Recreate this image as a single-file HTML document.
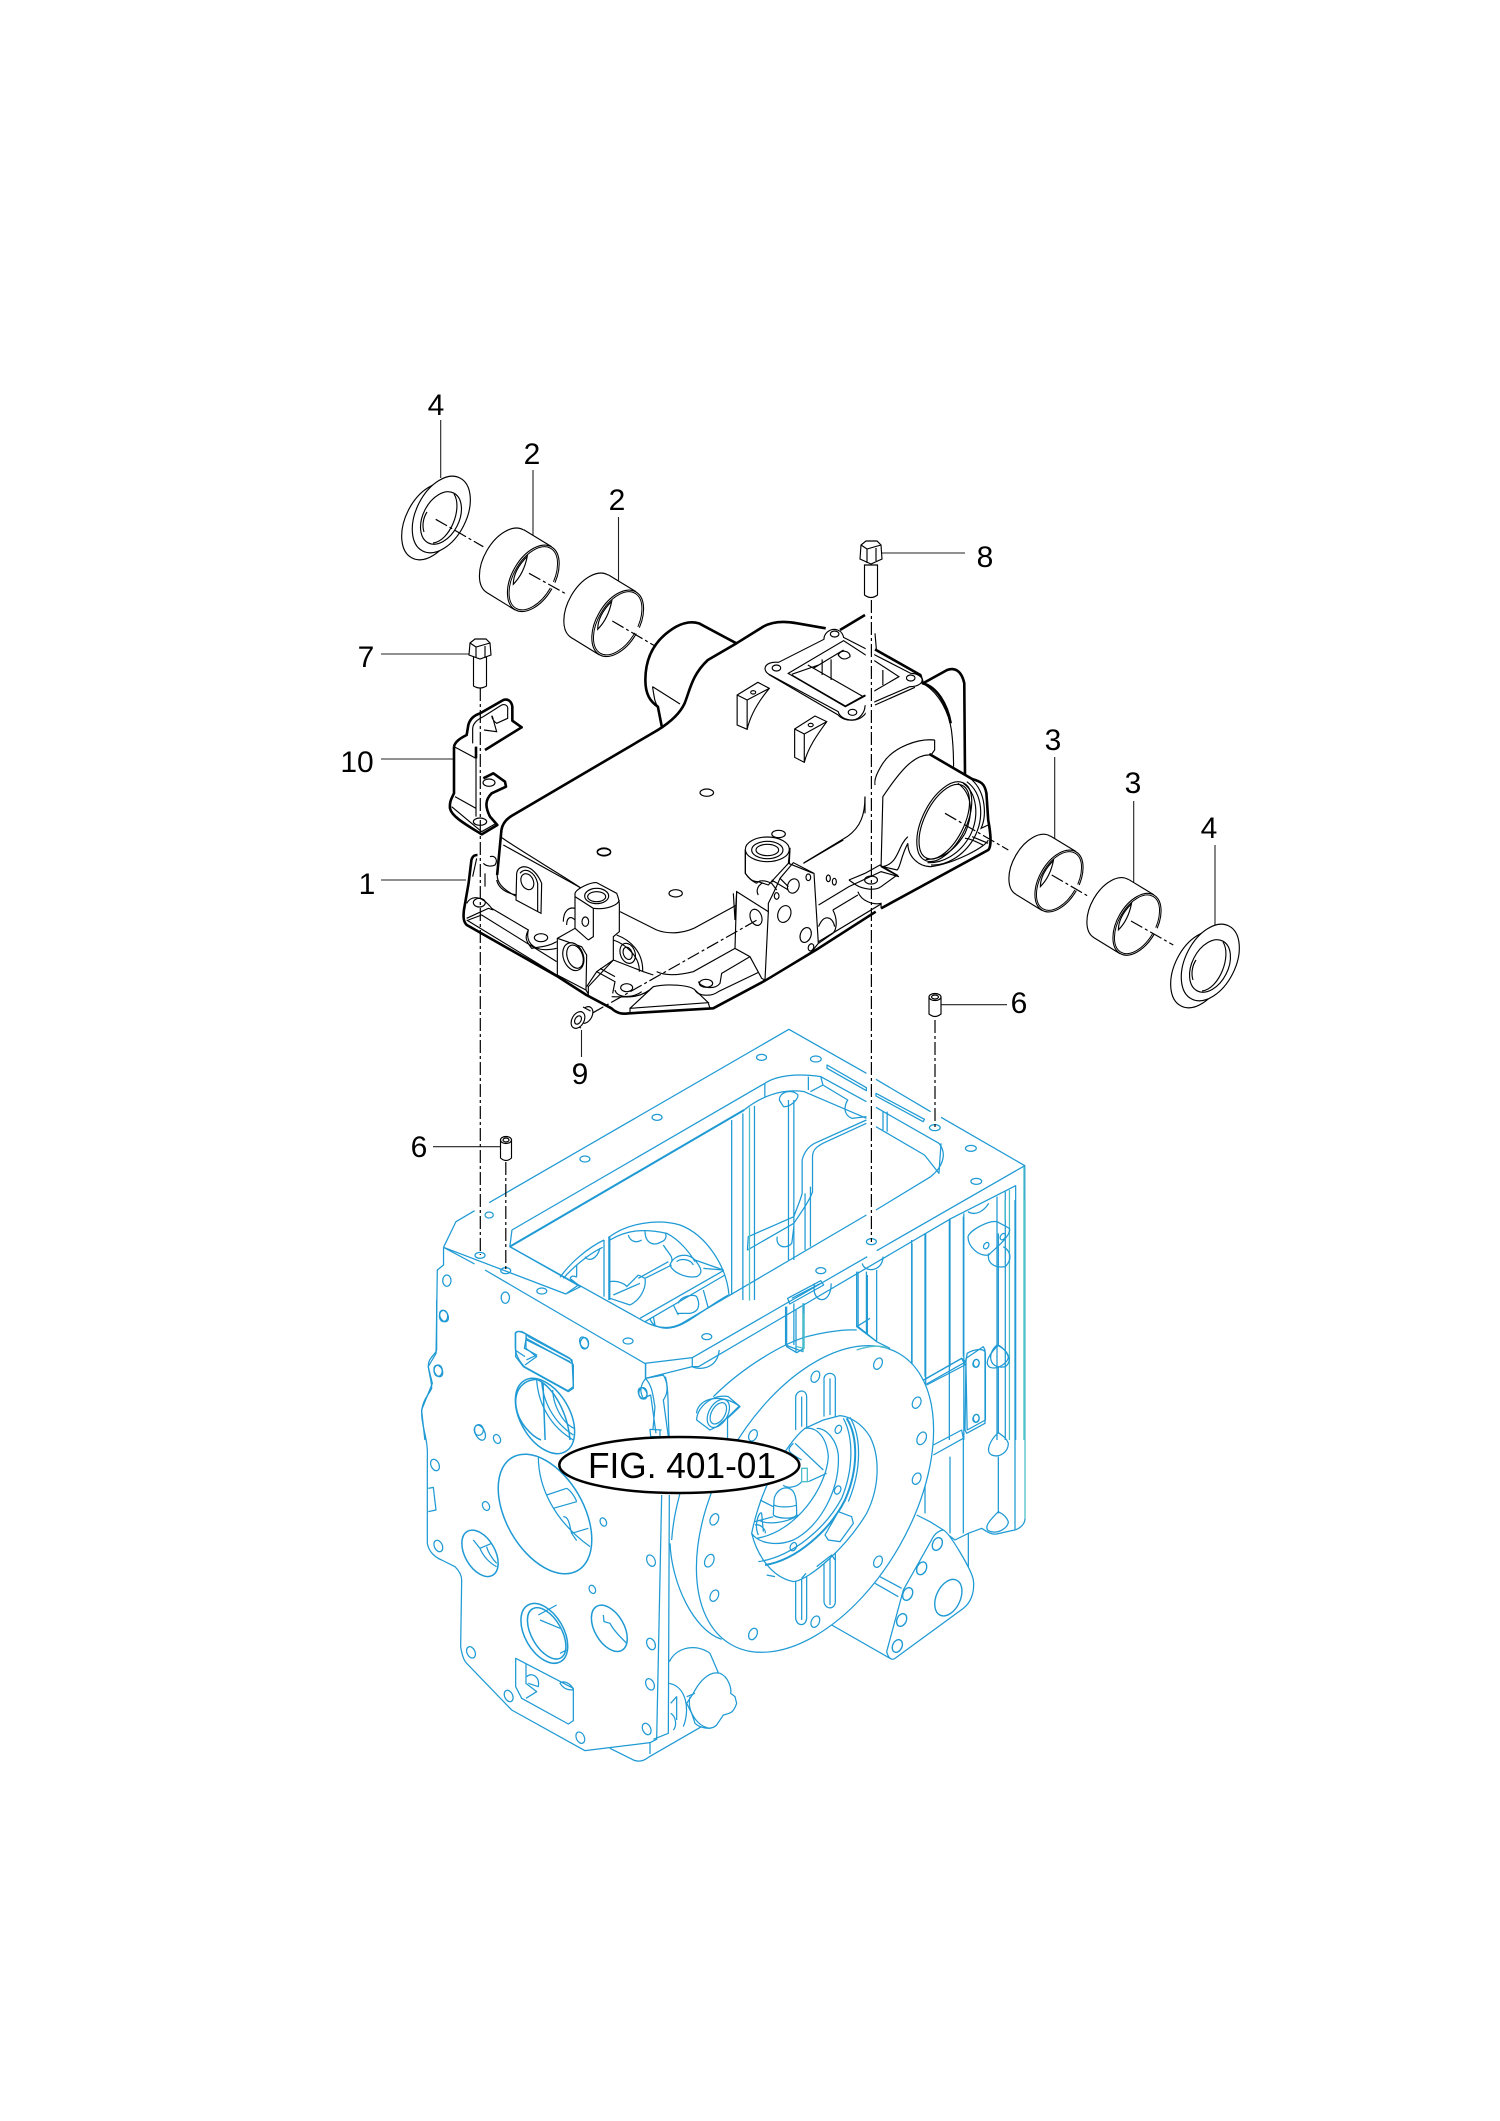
<!DOCTYPE html>
<html><head><meta charset="utf-8"><style>
html,body{margin:0;padding:0;background:#fff}
svg{display:block}
svg *{vector-effect:non-scaling-stroke}
text{font-family:"Liberation Sans",Arial,sans-serif;font-size:30px;fill:#000;text-anchor:middle;stroke:none}
.b{fill:none;stroke:#1f9ad4;stroke-width:1.25;stroke-linejoin:round}
.bw{fill:#fff;stroke:#1f9ad4;stroke-width:1.25}
.t{fill:none;stroke:#4fc0ca;stroke-width:1.3}
.k{fill:none;stroke:#000;stroke-width:1.15}
.kw{fill:#fff;stroke:#000;stroke-width:1.15}
.K{fill:none;stroke:#000;stroke-width:2.6;stroke-linejoin:round}
.l{stroke:#222;stroke-width:1.1;fill:none}
.d{stroke:#000;stroke-width:1.2;stroke-dasharray:13 3 3 3;fill:none}
</style></head><body>
<svg width="1500" height="2121" viewBox="0 0 1500 2121" xmlns="http://www.w3.org/2000/svg">
<rect width="1500" height="2121" fill="#fff"/>
<defs>
<g id="bush">
<ellipse cx="-28" cy="-17" rx="21.3" ry="36.3" transform="rotate(30 -28 -17)" class="kw"/>
<path d="M-9.5,-48.5 L18.2,-31.7 L-18.2,31.7 L-46.2,14.5Z" fill="#fff"/>
<path d="M-9.5,-48.5 L18.2,-31.7 M-46.2,14.5 L-18.2,31.7" class="k"/>
<ellipse cx="0" cy="0" rx="21.3" ry="36.3" transform="rotate(30)" fill="#fff" stroke="#000" stroke-width="1.1"/>
<ellipse cx="0" cy="0" rx="19.6" ry="34.6" transform="rotate(30)" fill="none" stroke="#000" stroke-width="1"/>
<path d="M-6,-22 C-14,-14 -20,-4 -20,6 C-12,-2 -8,-12 -6,-22Z" class="k"/>
<path d="M21,4 L18,10" stroke="#fff" stroke-width="4" fill="none"/>
</g>
<g id="seal">
<ellipse cx="-5.3" cy="3.5" rx="25" ry="41" transform="rotate(27 -5.3 3.5)" class="kw"/>
<ellipse cx="5.3" cy="-3.5" rx="25" ry="41" transform="rotate(27 5.3 -3.5)" class="kw"/>
<ellipse cx="5" cy="0" rx="18" ry="28" transform="rotate(27 5 0)" class="k"/>
<path d="M18,-24 C27,-10 14,23 -3,25" class="k"/>
<path d="M-9,-6 C-13,0 -14,8 -12,14" class="k"/>
</g>
</defs>

<!-- BLUE BODY upper, zoom 4 coords -->
<g transform="translate(400 1020) scale(.41459 .33333)">
<path class="b" d="M105,682 L135,605 L180,572 M215,548 L938,28 L1125,160 M1148,178 L1280,275 M1305,292 L1507,437 L1507,1260"/>
<path class="b" d="M105,682 L180,732 M205,750 L590,1030 L705,1013 L1127,710 M1150,692 L1507,437"/>
<path class="b" d="M105,682 L105,735 L90,750 L87,1000 L68,1040 L78,1090 L52,1170 L60,1260"/>
<path class="b" d="M720,1040 L1330,595 L1485,497 L1485,1260"/>
<path class="b" d="M705,1013 L705,1040 L720,1040 M592,1030 L592,1075 L705,1040"/>
<path class="b" d="M270,630 L880,190 C910,165 960,160 1015,170 L1125,245 M1148,262 L1300,370 C1320,400 1310,440 1280,470 L1148,570 M1125,585 L680,910 C650,930 620,925 590,905 L265,680 L270,630"/>
<path class="b" style="stroke-width:2" d="M265,680 L830,270"/>
<path class="b" d="M830,270 C870,230 920,205 975,215 L1125,295"/>
<path class="b" d="M265,680 L435,800 L400,822 L105,682"/>
<path class="b" d="M880,190 L880,230 M985,170 L985,210 M1015,170 L1020,195 L990,215 M1020,195 L1080,240 C1070,260 1070,285 1090,295 L1125,290"/>
<path class="b" d="M1030,135 L1125,203 L1125,212 L1030,145Z M1148,220 L1265,298 L1262,305 L1148,228Z"/>
<path class="b" d="M1125,300 L1000,370 C985,380 975,395 970,420 L970,520 C965,545 955,570 950,590 L840,650 L838,690 L950,610 C960,590 990,540 995,515 L995,410 C995,390 1005,380 1020,370 L1125,310"/>
<path class="b" d="M800,300 L800,825 M827,280 L827,840 M855,258 L855,840"/>
<path class="t" d="M843,262 L843,842"/>
<path class="b" d="M937,240 L937,720 M950,240 L950,720 M977,520 L977,690 M990,500 L990,680"/>
<path class="b" d="M1148,320 L1265,405 C1275,420 1290,445 1300,460 L1305,370 M1165,275 L1165,330 M1175,275 L1175,335"/>
<path class="b" d="M915,240 C915,215 945,205 960,225 C960,240 940,262 925,260 Z M910,650 C905,680 930,690 945,670 L950,620"/>
<path class="b" d="M935,835 L1015,782 L1022,795 L940,852Z M945,835 L1015,790"/>
<path class="b" d="M705,1040 C720,1050 765,1050 770,990 M1000,790 C990,850 1040,860 1040,790 M1115,730 C1120,760 1165,755 1165,710 M1105,755 L1105,920 M1125,755 L1125,940 L1150,965 M1105,920 L1145,960"/>
<path class="b" d="M930,860 L930,975 L972,995 L972,850 M950,850 L950,975"/>
<path class="t" d="M972,850 L972,995"/>
<path class="b" d="M1235,670 L1235,1260 M1268,640 L1268,1260 M1325,600 L1325,1260 M1360,580 L1360,1260 M1440,530 L1440,1260 M1460,515 L1460,1260"/>
<path class="t" d="M1470,510 L1470,1260 M1505,440 L1505,1260"/>
<path class="b" d="M1370,650 C1375,630 1420,600 1440,605 L1470,625 C1475,650 1430,690 1420,705 C1395,710 1370,680 1370,650Z M1420,700 C1415,730 1435,745 1460,740 C1480,715 1470,690 1455,680"/>
<ellipse class="b" cx="1414" cy="677" rx="6" ry="10" transform="rotate(20 1414 677)"/><ellipse class="b" cx="1454" cy="650" rx="6" ry="10" transform="rotate(20 1454 650)"/>
<path class="b" d="M1370,575 C1390,590 1410,570 1420,550"/>
<path class="b" d="M278,940 C280,930 300,935 310,950 L415,1020 L418,1100 L405,1112 L300,1040 C285,1020 278,1000 278,980Z M305,950 L300,985 L330,1005 L305,1020 M305,960 L410,1025"/>
<path class="b" style="stroke-width:1.5" d="M330,1078 C290,1080 275,1120 280,1160 C285,1210 320,1250 340,1260 M410,1260 C405,1180 370,1100 330,1078 M345,1090 L350,1260"/>
<path class="b" d="M592,1075 C610,1100 610,1130 615,1160 L610,1230 M640,1070 C650,1110 645,1200 650,1260 M715,1180 C720,1130 780,1120 820,1160 L790,1195 L790,1260"/>
<g class="b">
<ellipse cx="872" cy="112" rx="12" ry="9"/><ellipse cx="1003" cy="117" rx="13" ry="9"/><ellipse cx="620" cy="292" rx="12" ry="9"/><ellipse cx="446" cy="417" rx="12" ry="9"/><ellipse cx="215" cy="585" rx="10" ry="9"/><ellipse cx="193" cy="706" rx="12" ry="9"/><ellipse cx="255" cy="752" rx="12" ry="9"/><ellipse cx="342" cy="813" rx="12" ry="9"/><ellipse cx="550" cy="963" rx="12" ry="9"/><ellipse cx="740" cy="950" rx="12" ry="9"/><ellipse cx="1015" cy="752" rx="12" ry="9"/><ellipse cx="1137" cy="665" rx="12" ry="9"/><ellipse cx="1377" cy="385" rx="13" ry="9"/><ellipse cx="1390" cy="484" rx="13" ry="9"/><ellipse cx="1290" cy="323" rx="13" ry="9"/>
<ellipse cx="113" cy="782" rx="10" ry="17"/><ellipse cx="254" cy="833" rx="10" ry="17"/><ellipse cx="105" cy="888" rx="10" ry="17"/><ellipse cx="445" cy="970" rx="10" ry="17"/><ellipse cx="92" cy="1052" rx="10" ry="17"/><ellipse cx="586" cy="1120" rx="10" ry="17"/><ellipse cx="1000" cy="1070" rx="10" ry="17"/><ellipse cx="1152" cy="1030" rx="10" ry="17"/><ellipse cx="1246" cy="1150" rx="10" ry="17"/><ellipse cx="1390" cy="1030" rx="7" ry="12"/><ellipse cx="1390" cy="1195" rx="7" ry="12"/><ellipse cx="190" cy="1230" rx="11" ry="16"/>
</g>
<path class="b" d="M1262,1080 L1355,1015 L1365,1025 L1270,1092 M1365,1025 L1368,1000 C1380,990 1410,980 1412,1000 L1412,1200 L1368,1230 L1365,1025"/>
<path class="b" d="M1440,975 C1415,1000 1420,1050 1460,1040 C1480,1020 1465,990 1440,975Z"/>
</g>

<!-- interior gear casting, detail coords -->
<g transform="translate(530 1190) scale(.33333)">
<path class="b" d="M90,262 C120,220 170,175 222,150 M235,143 C290,100 380,85 450,105 C530,135 590,230 597,315"/>
<path class="b" d="M100,265 C135,225 180,190 218,172 M240,150 C290,120 340,115 410,130 C450,150 480,190 495,215"/>
<path class="b" style="stroke-width:2.2" d="M238,140 L238,330"/>
<path class="b" d="M222,150 L222,320"/>
<path class="b" d="M295,135 C300,155 320,160 335,150 M345,122 C345,160 370,170 395,155 C410,150 410,135 405,128 M400,165 C415,190 430,200 425,215"/>
<path class="b" d="M420,225 C430,195 470,185 495,210 C515,235 520,250 500,260 C470,265 430,250 420,225Z M440,215 C450,205 480,205 490,225 M495,210 L580,240 L520,235"/>
<path class="b" d="M580,242 L330,385 M585,255 L345,395 M425,225 L345,265 M415,215 L325,265 M325,255 L345,265 C350,295 330,330 300,345 L240,325 M240,275 C265,270 290,285 290,290 L325,255 M250,315 L330,280"/>
<path class="b" d="M360,385 C365,410 400,420 430,412 C470,405 530,350 595,315 M445,340 C450,320 490,310 500,320 C510,340 510,365 480,370 L440,370 M430,345 L445,375 M520,300 L535,355 M370,380 L375,405"/>
<path class="b" d="M120,265 L145,285 L110,310 M165,200 C175,215 200,210 210,175 M140,225 L140,260 M120,265 C125,255 135,258 140,262"/>
</g>

<!-- BLUE BODY lower left, zoom 5 coords -->
<g transform="translate(400 1300) scale(.33333)">
<path class="b" d="M110,0 L110,150 C105,165 85,175 85,195 C85,215 95,240 95,265 C90,280 65,300 65,340 C65,380 85,420 82,470 L82,730 C85,750 100,770 125,780 L165,800 C180,815 185,830 185,840 L182,1040 C185,1060 190,1080 200,1090 L335,1230 L555,1352 L750,1328 L770,1318 L785,585"/>
<path class="b" d="M630,1345 L700,1380 C720,1388 735,1380 745,1372 L1000,1225 M750,1328 L750,1362"/>
<path class="b" d="M85,565 L100,562 L108,630 L85,635"/>
<path class="b" d="M760,1318 L805,1300 L808,585 M785,390 L750,388 L752,410 L780,410 L780,388"/>
<path class="b" d="M737,190 L737,235 L790,225 C805,250 805,280 790,300 L805,410 M737,235 C725,250 715,270 730,295 L752,285 L768,400"/>
<path class="b" d="M808,1085 C830,1040 890,1030 930,1060 L960,1130 M808,1150 C860,1160 870,1230 850,1280 M812,1210 L830,1190 L830,1260 M812,1240 C830,1250 830,1280 820,1290"/>
<path class="bw" d="M880,1180 C890,1160 920,1110 960,1120 C985,1130 995,1165 992,1180 L1005,1190 L1010,1210 C1000,1240 990,1240 970,1245 L950,1275 C930,1295 895,1280 885,1270 L875,1240 L860,1210 Z"/>
<path class="b" d="M870,1190 C860,1230 890,1280 930,1285 M860,1190 L885,1180"/>
<g class="b" style="stroke-width:1.5">
<ellipse cx="435" cy="642" rx="116" ry="196" transform="rotate(-30 435 642)"/>
<ellipse cx="435" cy="348" rx="74" ry="123" transform="rotate(-30 435 348)"/>
<ellipse cx="240" cy="760" rx="45" ry="76" transform="rotate(-30 240 760)"/>
<ellipse cx="433" cy="1000" rx="58" ry="98" transform="rotate(-30 433 1000)"/>
<ellipse cx="440" cy="1000" rx="45" ry="85" transform="rotate(-30 440 1000)"/>
<ellipse cx="628" cy="985" rx="44" ry="76" transform="rotate(-30 628 985)"/>
</g>
<path class="b" d="M415,470 C415,560 460,660 570,740 M440,585 L500,565 M460,625 L530,605 M490,650 C510,650 510,690 515,700 L565,685 M515,700 L530,722 M500,565 C510,570 525,590 530,605"/>
<path class="b" d="M410,240 C415,310 450,380 520,420 M425,245 C430,310 465,370 520,405 M458,270 C460,320 490,370 522,385"/>
<path class="b" d="M220,720 L240,745 L275,730 M240,745 C250,770 270,790 290,800 M260,740 C265,760 280,780 290,790"/>
<path class="b" d="M610,945 L612,965 L630,970 C640,990 660,1010 680,1030"/>
<path class="b" d="M415,945 L470,915 M420,960 L480,985 M480,1060 L500,1050"/>
<path class="b" d="M347,100 C350,92 365,92 375,100 L510,175 L520,195 L520,265 L505,275 L370,200 L347,170Z M378,105 L378,145 L410,170 L375,195 M378,115 L515,190 M345,150 L375,170"/>
<path class="b" d="M347,1075 L520,1165 L520,1262 L505,1272 L365,1195 L347,1160Z M378,1092 L378,1150 L410,1175 L378,1195 M480,1150 C490,1140 515,1150 520,1170 C500,1170 490,1165 480,1150Z M380,1130 C395,1115 420,1130 415,1160 L385,1150"/>
<g class="b">
<ellipse cx="132" cy="48" rx="12" ry="18" transform="rotate(-25 132 48)"/><ellipse cx="115" cy="213" rx="12" ry="18" transform="rotate(-25 115 213)"/><ellipse cx="105" cy="495" rx="12" ry="18" transform="rotate(-25 105 495)"/><ellipse cx="115" cy="738" rx="12" ry="18" transform="rotate(-25 115 738)"/><ellipse cx="240" cy="398" rx="14" ry="24" transform="rotate(-25 240 398)"/><ellipse cx="291" cy="417" rx="10" ry="14" transform="rotate(-25 291 417)"/><ellipse cx="258" cy="618" rx="10" ry="14" transform="rotate(-25 258 618)"/><ellipse cx="610" cy="666" rx="9" ry="13" transform="rotate(-25 610 666)"/><ellipse cx="577" cy="868" rx="9" ry="13" transform="rotate(-25 577 868)"/><ellipse cx="552" cy="128" rx="12" ry="18" transform="rotate(-25 552 128)"/><ellipse cx="753" cy="782" rx="12" ry="18" transform="rotate(-25 753 782)"/><ellipse cx="753" cy="1032" rx="12" ry="18" transform="rotate(-25 753 1032)"/><ellipse cx="750" cy="1153" rx="12" ry="18" transform="rotate(-25 750 1153)"/><ellipse cx="740" cy="1287" rx="12" ry="18" transform="rotate(-25 740 1287)"/><ellipse cx="541" cy="1313" rx="12" ry="18" transform="rotate(-25 541 1313)"/><ellipse cx="326" cy="1188" rx="12" ry="18" transform="rotate(-25 326 1188)"/><ellipse cx="213" cy="1057" rx="12" ry="18" transform="rotate(-25 213 1057)"/><ellipse cx="728" cy="280" rx="12" ry="18" transform="rotate(-25 728 280)"/>
</g>
</g>

<!-- BLUE BODY lower right, zoom 6 coords -->
<g transform="translate(650 1200) scale(.33333)">
<path class="b" d="M785,120 L785,490 M825,100 L825,530 M900,55 L900,500 M940,50 L940,470 M940,700 L940,1000 M900,770 L900,1000 M825,770 L825,940 M1045,100 L1045,440 M1045,500 L1045,700 M1045,770 L1045,940 M1095,0 L1095,990"/>
<path class="t" d="M1125,0 L1125,955 M1065,0 L1065,60"/>
<path class="b" d="M1125,955 C1125,975 1105,990 1085,992 L1040,1002 C1025,1005 1010,995 995,985 L955,1000 L915,1020 L895,1005 M955,1000 L955,1200"/>
<path class="b" d="M1045,435 C1020,460 1000,490 1020,502 C1040,510 1075,490 1075,470 C1070,455 1055,440 1045,435Z M1045,698 C1020,720 1005,755 1025,765 C1050,775 1075,755 1075,730 C1070,715 1055,705 1045,698Z M1045,935 C1025,955 1000,980 1015,992 C1040,1005 1075,985 1075,965 C1070,950 1055,940 1045,935Z"/>
<path class="b" d="M948,475 L1000,440 L1005,450 L1005,670 L950,700 L945,690Z M822,540 L935,475 L945,495 L830,555 M850,735 L935,690 L940,715 L850,765"/>
<ellipse class="b" cx="978" cy="490" rx="9" ry="12" transform="rotate(20 978 490)"/><ellipse class="b" cx="978" cy="655" rx="9" ry="12" transform="rotate(20 978 655)"/>
<path class="b" d="M800,945 L840,965 L880,990"/>
<path class="b" d="M190,590 C280,500 400,430 470,410 C530,395 580,388 620,390 M60,1030 C65,1150 130,1290 215,1318 M65,1020 C70,950 85,900 95,860"/>
<path class="b" d="M410,320 L410,440 L440,458 L462,445 L462,310 M438,330 L438,455"/>
<path class="t" d="M440,440 L462,445 L462,340"/>
<path class="b" d="M620,215 L620,380 L680,425 L680,210 M652,225 L652,405 M620,380 L660,355 M680,425 L720,445"/>
<path class="b" d="M140,660 C140,620 190,580 235,590 L268,618 L235,650 L200,680 L180,690 L140,660Z"/>
<ellipse class="b" cx="205" cy="640" rx="28" ry="46" transform="rotate(30 205 640)"/><ellipse class="b" cx="205" cy="640" rx="20" ry="35" transform="rotate(30 205 640)"/>
<path class="b" d="M545,1275 L720,1375 M675,1150 L745,1190 M690,1130 L755,1165"/>
<path class="bw" d="M880,990 C900,1000 965,1110 970,1140 C975,1180 960,1210 940,1225 L735,1375 C725,1382 715,1375 710,1355 L760,1170 L850,1010 C860,995 875,990 880,990Z"/>
<g class="b" style="stroke-width:1.4">
<ellipse cx="862" cy="1032" rx="14" ry="20" transform="rotate(25 862 1032)"/><ellipse cx="815" cy="1105" rx="14" ry="20" transform="rotate(25 815 1105)"/><ellipse cx="773" cy="1182" rx="14" ry="20" transform="rotate(25 773 1182)"/><ellipse cx="755" cy="1260" rx="14" ry="20" transform="rotate(25 755 1260)"/><ellipse cx="742" cy="1338" rx="14" ry="20" transform="rotate(25 742 1338)"/><ellipse cx="895" cy="1193" rx="36" ry="58" transform="rotate(25 895 1193)"/>
</g>
<ellipse class="bw" cx="495" cy="897" rx="290" ry="504" transform="rotate(30 495 897)"/>
<path d="M620,450 C660,436 690,435 715,445" class="t"/>
<g class="b">
<ellipse cx="684" cy="491" rx="12" ry="18" transform="rotate(25 684 491)"/><ellipse cx="496" cy="530" rx="12" ry="18" transform="rotate(25 496 530)"/><ellipse cx="800" cy="608" rx="12" ry="18" transform="rotate(25 800 608)"/><ellipse cx="815" cy="715" rx="13" ry="20" transform="rotate(25 815 715)"/><ellipse cx="800" cy="836" rx="12" ry="18" transform="rotate(25 800 836)"/><ellipse cx="684" cy="1085" rx="12" ry="18" transform="rotate(25 684 1085)"/><ellipse cx="496" cy="1265" rx="12" ry="18" transform="rotate(25 496 1265)"/><ellipse cx="309" cy="1302" rx="12" ry="18" transform="rotate(25 309 1302)"/><ellipse cx="193" cy="1187" rx="12" ry="18" transform="rotate(25 193 1187)"/><ellipse cx="178" cy="1082" rx="13" ry="20" transform="rotate(25 178 1082)"/><ellipse cx="193" cy="958" rx="12" ry="18" transform="rotate(25 193 958)"/><ellipse cx="309" cy="706" rx="12" ry="18" transform="rotate(25 309 706)"/>
</g>
<path class="b" d="M437,690 L437,590 C440,570 468,565 470,590 L470,690 M455,590 L455,680 M522,650 L522,535 C525,515 555,515 556,535 L556,650 M540,535 L540,645"/>
<path class="b" d="M437,1130 L437,1255 C440,1280 468,1280 470,1255 L470,1120 M455,1130 L455,1260 M522,1085 L522,1205 C525,1230 555,1230 556,1205 L556,1060 M540,1075 L540,1215"/>
</g>

<!-- hub detail -->
<g transform="translate(730 1400) scale(.33333)">
<path class="bw" d="M225,85 C190,110 100,230 65,400 C80,460 120,530 190,545 C240,540 350,440 410,340 C450,260 450,170 420,110 C395,70 360,50 330,47 L280,60 Z"/>
<path class="b" d="M225,85 C260,80 290,110 295,170 C290,260 200,395 80,415 M65,400 C85,430 140,440 190,420 C270,380 330,270 325,165 C320,120 290,85 260,85"/>
<path class="b" style="stroke-width:2" d="M350,55 C385,110 385,210 345,300 C300,390 200,480 105,495"/>
<path class="b" d="M340,55 C370,110 372,205 335,295 C290,380 190,470 85,485 M360,52 C395,110 395,210 355,305"/>
<path class="b" d="M195,130 L280,210 M190,130 C170,150 170,155 215,180 M235,245 L290,220 M215,245 C200,265 165,265 160,255"/>
<path class="t" d="M215,205 L232,205 L232,245 L215,245 Z"/>
<path class="b" d="M130,345 L132,300 C135,270 170,250 190,275 C200,290 200,320 200,345 C190,360 140,355 130,345 M132,315 C150,325 190,320 200,315 M90,300 L130,320 M75,365 L130,350 M75,375 C90,370 110,390 105,400 M85,405 C70,370 90,330 95,340 L100,395 M205,345 C170,370 110,375 85,360"/>
<path class="bw" d="M285,405 L325,335 L365,350 L370,370 L330,425 L295,420 Z"/>
<ellipse class="b" cx="325" cy="88" rx="9" ry="13" transform="rotate(25 325 88)"/><ellipse class="b" cx="323" cy="270" rx="9" ry="13" transform="rotate(25 323 270)"/><ellipse class="b" cx="190" cy="440" rx="9" ry="13" transform="rotate(25 190 440)"/>
<path class="b" d="M110,525 L135,530 M260,500 L305,465 L315,480 M215,535 L228,520"/>
</g>

<!-- BLACK HOUSING, zoom 2 coords -->
<g transform="translate(440 580) scale(.35714 .33333)">
<path class="K" d="M160,885 L172,750 C175,730 185,718 200,708 L610,450 C640,430 670,405 685,370 C700,330 705,285 750,240 L830,190 L905,140 C930,125 960,122 1000,130 L1080,145 M1120,150 L1190,105"/>
<path class="K" d="M830,190 L725,130 C700,122 670,130 640,155 C590,195 575,250 575,300 C575,345 590,365 610,380 L622,445"/>
<path class="k" d="M595,320 L672,372 M595,320 C600,350 600,365 610,380"/>
<path class="K" d="M1218,208 L1345,285 L1352,310 L1420,270 C1440,262 1460,270 1468,310 L1470,585"/>
<path class="K" d="M1370,522 L1490,597 C1515,605 1525,610 1530,640 L1535,720 C1542,760 1545,800 1535,810 L1235,985 M1220,995 L1060,1105 L905,1205 L765,1285 L530,1300 C510,1303 495,1300 480,1285 L410,1245 L330,1190 L75,1035 C65,1025 65,1010 67,990 L80,910 L88,840 C92,825 100,825 105,825"/>
<path class="K" d="M1352,310 C1390,320 1420,370 1430,430"/>
<path class="k" d="M1352,310 C1400,340 1425,400 1432,450 C1438,500 1438,540 1438,560 M1385,480 C1340,475 1270,500 1240,550 C1225,575 1215,600 1218,615 M1385,480 L1385,510 L1375,525 C1330,520 1290,570 1240,650 L1235,860 L1285,890 M1190,650 C1190,700 1180,740 1140,770 L1020,848"/>
<path class="k" d="M170,770 C190,790 380,910 395,925 M160,885 C160,905 170,925 215,950"/>
<path class="kw" d="M910,265 C912,250 930,245 948,247 L1075,178 C1075,160 1090,148 1105,148 C1120,150 1128,160 1130,172 L1190,205 L1218,225 L1318,280 C1335,280 1350,290 1350,300 C1350,312 1335,320 1315,320 L1218,365 L1190,378 C1190,395 1175,420 1155,420 C1135,420 1118,410 1115,395 L925,285 C915,280 910,272 910,265 Z"/>
<path class="k" d="M920,283 L1115,405 C1130,425 1175,430 1195,395 M1218,375 L1330,322"/>
<path class="k" d="M975,280 L1130,182 L1285,290 L1218,332 L1135,380 Z M985,283 L1060,255 M1030,255 L1185,350 M985,285 L1135,378 L1190,345"/>
<path class="k" d="M1070,238 L1070,285 M1095,238 L1095,300 M1240,270 L1240,315 M1045,265 L1130,210 M1115,225 C1125,205 1150,215 1148,230 C1135,240 1125,240 1115,225Z"/>
<g class="k"><ellipse cx="942" cy="264" rx="12" ry="9"/><ellipse cx="1105" cy="162" rx="12" ry="9"/><ellipse cx="1318" cy="294" rx="12" ry="9"/><ellipse cx="1155" cy="397" rx="12" ry="9"/></g>
<path class="kw" d="M832,345 L890,307 L922,325 C895,360 870,400 860,448 L832,435 Z M832,345 L860,360 L860,448 M860,360 L922,325"/>
<ellipse class="k" cx="877" cy="337" rx="7" ry="5"/>
<path class="kw" d="M993,447 L1050,408 L1083,425 C1055,465 1030,505 1020,547 L993,532 Z M993,447 L1020,462 L1020,547 M1020,462 L1083,425"/>
<ellipse class="k" cx="1038" cy="435" rx="7" ry="5"/>
<g class="k"><ellipse cx="747" cy="638" rx="19" ry="11"/><ellipse cx="459" cy="815" rx="19" ry="11"/><ellipse cx="948" cy="762" rx="19" ry="11"/></g>
<path class="k" d="M1060,975 L1145,920 L1235,875 L1285,890 M1145,900 L1190,880 L1232,855 L1280,885 L1235,920 C1215,935 1180,925 1165,915 L1145,900 M1170,935 C1180,965 1215,975 1235,970 L1235,985 M1100,990 L1170,945 M1100,990 C1115,1020 1110,1050 1100,1060 L1060,1090 M1060,1040 C1075,1000 1100,1010 1105,1040"/>
<ellipse class="k" cx="1207" cy="900" rx="18" ry="12"/>
<path class="k" d="M1075,1075 L1230,975 M1060,1085 L1235,972"/>
<path class="k" d="M1310,770 C1280,800 1285,850 1240,860 L1280,870 C1290,860 1290,830 1310,790 C1310,830 1340,860 1375,860 C1440,850 1530,800 1535,780"/>
<ellipse class="kw" cx="1412" cy="725" rx="62" ry="128" transform="rotate(24 1412 725)"/>
<ellipse class="k" cx="1412" cy="725" rx="56" ry="120" transform="rotate(24 1412 725)"/>
<path class="k" d="M1450,610 C1490,640 1495,700 1470,760 C1440,815 1400,840 1360,838 M1465,610 C1505,640 1510,710 1485,765 C1455,825 1405,850 1365,848 M1475,605 C1520,640 1525,715 1495,775 C1465,830 1415,858 1375,855 M1490,600 C1530,640 1530,710 1515,745 L1535,735 M1490,770 L1535,790 M1470,775 C1485,775 1510,790 1520,795"/>
<rect x="1192" y="100" width="24" height="545" fill="#fff"/>
<path class="k" d="M1190,650 L1190,700 M1218,160 L1222,210"/>
</g>

<!-- front base, detail coords -->
<g transform="translate(460 840) scale(.33333)">
<path class="k" d="M130,15 L365,145 M110,120 C115,145 140,160 170,165 M480,215 L590,270 C630,285 680,280 720,255 L830,195"/>
<path class="k" d="M20,190 C30,170 60,160 95,205 L205,270 C195,290 195,300 215,325 C240,320 265,320 290,305 M20,235 L85,205 L100,210 M20,240 L290,405 M205,270 C195,310 225,340 290,325 M25,240 L65,225 L290,365"/>
<ellipse class="k" cx="58" cy="188" rx="18" ry="13"/><ellipse class="k" cx="243" cy="293" rx="20" ry="12"/>
<path class="k" d="M50,55 L38,110 M75,100 L75,140 M90,50 C105,45 115,60 105,75 C95,80 80,80 70,70"/>
<path class="kw" d="M168,180 L170,100 C175,70 220,70 245,130 L243,220 Z"/>
<path class="k" d="M180,100 C195,80 225,95 233,130 L233,215"/>
<ellipse class="k" cx="202" cy="125" rx="18" ry="25" transform="rotate(-25 202 125)"/>
<path class="k" d="M310,245 C310,215 325,200 345,205 M320,255 C320,235 330,225 345,240"/>
<path class="kw" d="M345,160 C350,145 395,125 410,128 L470,160 C480,185 478,195 478,215 L478,275 L460,290 L460,360 L385,440 L385,462 L378,450 L292,405 L292,295 L345,265 Z"/>
<path class="k" d="M345,170 L400,205 L400,290 L385,300 M400,205 C440,210 475,195 478,180 M292,295 L365,320 L380,345 L378,450 M345,265 L385,300"/>
<ellipse class="kw" cx="410" cy="168" rx="36" ry="23"/><ellipse class="k" cx="410" cy="170" rx="27" ry="15"/>
<ellipse class="k" cx="376" cy="245" rx="10" ry="14"/>
<ellipse class="kw" cx="340" cy="350" rx="30" ry="43" transform="rotate(-20 340 350)"/><ellipse class="k" cx="345" cy="350" rx="23" ry="36" transform="rotate(-20 345 350)"/>
<path class="k" d="M470,285 C510,300 550,335 548,395 M460,300 C490,310 540,345 538,395 M380,440 L410,395 L460,360 L550,395 L580,405 M410,395 L465,425 L458,460 M420,385 L465,410"/>
<ellipse class="k" cx="503" cy="340" rx="22" ry="31" transform="rotate(-20 503 340)"/><ellipse class="k" cx="503" cy="340" rx="13" ry="19" transform="rotate(-20 503 340)"/>
<ellipse class="k" cx="500" cy="443" rx="18" ry="12"/>
<path class="k" d="M455,470 C490,470 540,480 580,440 C620,430 690,435 705,450 L745,488 L510,505 L510,522 M510,505 L580,440 M465,450 C470,475 520,475 545,455 M745,490 L750,505"/>
<path class="k" d="M590,395 C620,410 660,405 700,395 L825,325 M705,450 C715,470 755,470 775,455 L900,395 M715,425 C725,445 765,450 780,430 L785,400 L870,350 L905,410 M825,325 L870,350"/>
<ellipse class="k" cx="738" cy="430" rx="20" ry="12"/>
<ellipse class="k" cx="432" cy="37" rx="20" ry="11"/><ellipse class="k" cx="647" cy="160" rx="20" ry="11"/>
<path class="kw" d="M830,155 L925,215 L925,190 C945,150 950,140 960,115 L1000,68 L1062,100 L1075,310 L1055,335 L915,420 L905,415 L870,350 L825,325 Z"/>
<path class="k" d="M925,215 L915,420 M830,155 L825,240 L820,160 M940,125 C895,120 885,150 895,165 M960,115 L985,140 M985,70 L1060,100"/>
<g class="k"><ellipse cx="1000" cy="138" rx="17" ry="22" transform="rotate(20 1000 138)"/><ellipse cx="973" cy="222" rx="19" ry="26" transform="rotate(20 973 222)"/><ellipse cx="1037" cy="285" rx="16" ry="23" transform="rotate(20 1037 285)"/><ellipse cx="1053" cy="322" rx="8" ry="11" transform="rotate(20 1053 322)"/><ellipse cx="1045" cy="112" rx="7" ry="10"/><ellipse cx="950" cy="168" rx="7" ry="10"/><ellipse cx="888" cy="232" rx="17" ry="25" transform="rotate(-20 888 232)"/></g>
<path class="kw" d="M856,30 L856,100 C870,120 880,125 895,125 L925,135 L985,70 L990,25 Z" stroke="none"/>
<path class="k" d="M856,30 L856,100 C870,120 880,125 890,130 M990,25 L988,70"/>
<ellipse class="kw" cx="922" cy="28" rx="66" ry="37"/><ellipse class="k" cx="922" cy="30" rx="47" ry="26"/><ellipse class="k" cx="922" cy="30" rx="34" ry="17"/>
<path class="k" d="M890,130 C895,120 915,120 935,130 L950,150 M935,120 L985,150 M1030,70 L1150,0"/>
<g class="k"><ellipse cx="1105" cy="115" rx="6" ry="10"/><ellipse cx="1123" cy="125" rx="6" ry="10"/></g>
</g>

<!-- bracket item 10 -->
<g transform="translate(320 360) scale(.33333)">
<path class="K" d="M402,1160 C405,1145 420,1135 440,1125 L445,1095 C450,1075 465,1065 480,1060 L550,1020 C565,1015 575,1025 577,1040 L577,1082 L605,1102 L495,1170 M468,1160 L468,1195"/>
<path class="k" d="M458,1150 L458,1105 C460,1085 480,1075 490,1070 L545,1035 C558,1030 565,1040 563,1050 L563,1075 L530,1090 C510,1075 515,1055 520,1080 L530,1115 L492,1110"/>
<path class="K" d="M402,1160 L402,1300 C395,1315 388,1325 390,1345 C395,1370 440,1395 485,1423 L532,1395 L510,1370 C495,1340 495,1320 515,1300 L558,1280 L555,1265 L520,1240 L490,1255"/>
<path class="k" d="M402,1160 L468,1195 L468,1345 M405,1310 L468,1345 L468,1370 M395,1340 L485,1415 L525,1392"/>
<ellipse class="k" cx="507" cy="1268" rx="18" ry="11"/><ellipse class="k" cx="480" cy="1385" rx="20" ry="11"/>
</g>

<!-- labels and leaders -->
<g class="l">
<path d="M440.7,420V478 M533,470V537 M618.5,517V582 M381,654H470 M381,759H453 M880,553H965 M381,880H466 M581.5,1030V1057 M433,1146.7H500 M941,1004.7H1007 M1054.7,757V840 M1133.7,801V882 M1215,845V925"/>
</g>
<text x="436" y="415">4</text><text x="532" y="464">2</text><text x="617" y="510">2</text>
<text x="366" y="667">7</text><text x="357" y="772">10</text><text x="985" y="567">8</text>
<text x="367" y="894">1</text><text x="580" y="1084">9</text><text x="419" y="1157">6</text>
<text x="1019" y="1013">6</text><text x="1053" y="750">3</text><text x="1133" y="793">3</text><text x="1209" y="838">4</text>

<use href="#seal" x="436" y="518"/>
<use href="#seal" x="1205" y="966"/>
<use href="#bush" transform="translate(533.3 578.3)"/>
<use href="#bush" transform="translate(617.7 623.3)"/>
<use href="#bush" transform="translate(1059 881) scale(.93)"/>
<use href="#bush" transform="translate(1137 924.3) scale(.93)"/>

<!-- dash centre lines drawn beneath the plug -->
<g class="d">
<path d="M480.3,688V1255 M871.4,600V1242 M505.8,1162V1270 M935,1020V1128"/>
<path d="M435.7,519.3L483.3,546.7 M529,573.3L566.7,594.3 M612.3,621L655,646"/>
<path d="M945,813.3L1008.3,850 M1051.7,875L1087.3,895.7 M1131,921L1173.3,945"/>
<path d="M592,1013.3L757,920"/>
</g>

<g>
<path class="kw" d="M473.5,654 L473.5,686 Q480,690 486.5,686 L486.5,654Z"/>
<path class="kw" d="M470,643 L475,639 L486,639 L490,643 L491,655 L480,659 L469,655Z"/>
<path class="k" d="M470,643 L476,647 L490,643 M476,647 L476,658 M485,646 L485,658"/>
<path class="kw" d="M864.5,565 L864.5,595 Q871,600 877.5,595 L877.5,565Z"/>
<path class="kw" d="M861,545 L866,541 L877,541 L881,545 L882,559 L871,564 L860,559Z"/>
<path class="k" d="M861,545 L867,549 L881,545 M867,549 L867,563 M876,548 L876,561"/>
<path class="kw" d="M500.5,1140 L500.5,1158 Q506,1163 511.5,1158 L511.5,1140Z"/><ellipse class="kw" cx="506" cy="1140" rx="5.5" ry="3.5"/><ellipse class="k" cx="506" cy="1140" rx="3" ry="2"/>
<path class="kw" d="M929,997 L929,1014 Q935,1019 941,1014 L941,997Z"/><ellipse class="kw" cx="935" cy="997" rx="6" ry="3.5"/><ellipse class="k" cx="935" cy="997" rx="3.5" ry="2"/>
<!-- plug 9: short cylinder with socket -->
<ellipse class="kw" cx="586" cy="1015" rx="6" ry="9" transform="rotate(30 586 1015)"/>
<path d="M583,1007 L591,1011 L581,1028 L573,1024Z" fill="#fff"/>
<path class="k" d="M583,1007 L590.5,1011 M573,1024 L581,1028"/>
<ellipse class="kw" cx="578" cy="1020" rx="6" ry="9" transform="rotate(30 578 1020)"/>
<ellipse class="k" cx="578" cy="1020" rx="3" ry="4.5" transform="rotate(30 578 1020)"/>
</g>

<ellipse cx="679.3" cy="1465" rx="120" ry="28" fill="#fff" stroke="#000" stroke-width="2.5"/>
<text x="682" y="1478" style="font-size:36px" textLength="188" lengthAdjust="spacingAndGlyphs">FIG. 401-01</text>
</svg>
</body></html>
